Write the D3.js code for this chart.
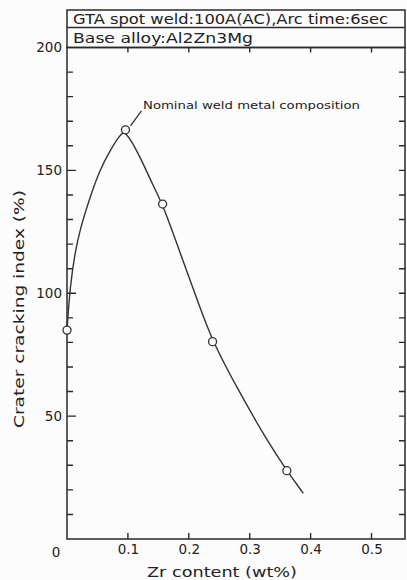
<!DOCTYPE html>
<html lang="en">
<head>
    <meta charset="UTF-8">
    <title>Crater cracking index vs Zr content</title>
    <script src="https://d3js.org/d3.v7.min.js"></script>
    <style>
        html, body { margin: 0; padding: 0; background: #fcfcfc; }
        svg { display: block; }
        text { font-family: "DejaVu Sans", sans-serif; fill: #222; }
        .domain { display: none; }
    </style>
</head>
<body>
<div id="chart"></div>
<script>
    // measured points
    const zrPoints = [0, 0.096, 0.157, 0.239, 0.361];
    const indexPoints = [85, 166.5, 136.3, 80.3, 27.8];

    // hand-drawn fitted curve
    const curveZr = [0, 0.005, 0.013, 0.021, 0.038, 0.054, 0.071, 0.087, 0.096, 0.12, 0.142, 0.157, 0.186, 0.218, 0.239, 0.284, 0.328, 0.361, 0.388];
    const curveIndex = [85, 102.7, 116.3, 125.7, 139.3, 150.2, 158.3, 164.4, 166.5, 155.6, 143.4, 136.3, 116.3, 94.5, 80.3, 59.3, 40.3, 27.8, 18.6];

    const xTicks = [0.1, 0.2, 0.3, 0.4, 0.5];
    const xTickLabels = ['0.1', '0.2', '0.3', '0.4', '0.5'];
    const yMinorTicks = d3.range(10, 200, 10);
    const yLabelTicks = [50, 100, 150, 200];

    const headerLines = ['GTA spot weld:100A(AC),Arc time:6sec', 'Base alloy:Al2Zn3Mg'];
    const noteText = 'Nominal weld metal composition';

    const W = 407, H = 580;
    const plotL = 67, plotR = 405, plotT = 47.5, plotB = 539;
    const ink = '#2a2a2a';

    const x = d3.scaleLinear().domain([0, 0.555]).range([plotL, plotR]);
    const y = d3.scaleLinear().domain([0, 200]).range([plotB, plotT]);

    const svg = d3.select('#chart').append('svg')
        .attr('width', W)
        .attr('height', H);

    // header box
    svg.append('rect')
        .attr('x', plotL).attr('y', 10)
        .attr('width', plotR - plotL).attr('height', plotT - 10)
        .attr('fill', 'none').attr('stroke', ink).attr('stroke-width', 1.5);
    svg.append('line')
        .attr('x1', plotL).attr('x2', plotR)
        .attr('y1', 27.5).attr('y2', 27.5)
        .attr('stroke', ink).attr('stroke-width', 1.3);
    svg.append('text')
        .attr('x', 73).attr('y', 24)
        .attr('font-size', 14)
        .attr('textLength', 315).attr('lengthAdjust', 'spacingAndGlyphs')
        .text(headerLines[0]);
    svg.append('text')
        .attr('x', 73).attr('y', 42.5)
        .attr('font-size', 14)
        .attr('textLength', 180).attr('lengthAdjust', 'spacingAndGlyphs')
        .text(headerLines[1]);

    // plot frame
    svg.append('rect')
        .attr('x', plotL).attr('y', plotT)
        .attr('width', plotR - plotL).attr('height', plotB - plotT)
        .attr('fill', 'none').attr('stroke', ink).attr('stroke-width', 1.5);

    // tick marks, all pointing inward; every 50 a bit longer on the left
    const yLeftPath = yMinorTicks.map(d => `M${plotL},${y(d)}h${d % 50 === 0 ? 9 : 6}`).join('');
    const yRightPath = yMinorTicks.map(d => `M${plotR},${y(d)}h-6`).join('');
    const xTopPath = xTicks.map(d => `M${x(d)},${plotT}v5`).join('');
    const xBottomPath = xTicks.map(d => `M${x(d)},${plotB}v-6`).join('');

    svg.append('path')
        .attr('d', yLeftPath + yRightPath + xTopPath + xBottomPath)
        .attr('fill', 'none')
        .attr('stroke', ink)
        .attr('stroke-width', 1.4);

    // left labels
    svg.append('g')
        .attr('transform', `translate(${plotL},0)`)
        .call(d3.axisLeft(y).tickValues(yLabelTicks).tickSize(0).tickPadding(5))
        .selectAll('text')
        .attr('font-size', 13.5)
        .attr('fill', '#222');

    // bottom labels
    svg.append('g')
        .attr('transform', `translate(0,${plotB})`)
        .call(d3.axisBottom(x).tickValues(xTicks).tickSize(0).tickPadding(5)
            .tickFormat((d, i) => xTickLabels[i]))
        .selectAll('text')
        .attr('font-size', 13.5)
        .attr('fill', '#222');

    svg.append('text')
        .attr('x', 56).attr('y', 556.5)
        .attr('text-anchor', 'middle')
        .attr('font-size', 13.5)
        .text('0');

    // axis titles
    svg.append('text')
        .attr('x', 222).attr('y', 577)
        .attr('text-anchor', 'middle')
        .attr('font-size', 13.5)
        .attr('textLength', 150).attr('lengthAdjust', 'spacingAndGlyphs')
        .text('Zr content (wt%)');
    svg.append('text')
        .attr('transform', 'translate(24,309) rotate(-90)')
        .attr('text-anchor', 'middle')
        .attr('font-size', 14)
        .attr('textLength', 238).attr('lengthAdjust', 'spacingAndGlyphs')
        .text('Crater cracking index (%)');

    // curve
    const curveData = curveZr.map((d, i) => [d, curveIndex[i]]);
    const line = d3.line()
        .x(d => x(d[0]))
        .y(d => y(d[1]))
        .curve(d3.curveBasis);
    svg.append('path')
        .datum(curveData)
        .attr('d', line)
        .attr('fill', 'none')
        .attr('stroke', '#333')
        .attr('stroke-width', 1.4);

    // markers
    const pts = zrPoints.map((d, i) => [d, indexPoints[i]]);
    svg.selectAll('.pt')
        .data(pts)
        .join('circle')
        .attr('class', 'pt')
        .attr('cx', d => x(d[0]))
        .attr('cy', d => y(d[1]))
        .attr('r', 4)
        .attr('fill', '#fcfcfc')
        .attr('stroke', '#333')
        .attr('stroke-width', 1.3);

    // annotation for nominal composition
    const px = x(zrPoints[1]), py = y(indexPoints[1]);
    svg.append('line')
        .attr('x1', px + 5).attr('y1', py - 4)
        .attr('x2', px + 16).attr('y2', py - 19)
        .attr('stroke', '#333').attr('stroke-width', 1.3);
    svg.append('text')
        .attr('x', 143).attr('y', 109)
        .attr('font-size', 11)
        .attr('textLength', 217).attr('lengthAdjust', 'spacingAndGlyphs')
        .text(noteText);
</script>
</body>
</html>
